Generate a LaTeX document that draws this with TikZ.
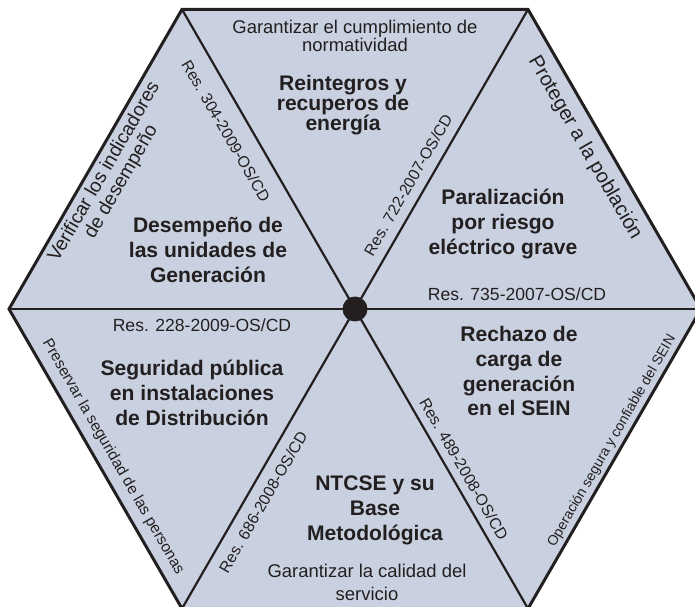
\documentclass[tikz,border=0pt]{standalone}
\usepackage{fontspec}
\setmainfont{Liberation Sans}
\definecolor{hexfill}{RGB}{201,209,224}
\definecolor{ink}{RGB}{35,31,32}

\begin{document}
\begin{tikzpicture}[x=0.02cm, y=-0.02cm, every node/.style={inner sep=0pt, text=ink},
	topic/.style={font=\fontsize{12}{14.2}\selectfont\bfseries, align=center},
	goal/.style={font=\fontsize{10.5}{11.4}\selectfont, align=center},
	res/.style={font=\fontsize{10}{12}\selectfont},
	resline/.style={font=\fontsize{9}{10}\selectfont}]

\useasboundingbox (0,0) rectangle (695,607);

\coordinate(c) at(355,309);
\foreach [count=\i] \x\y in {9/309,182/9.4,528/9.4,701/309,528/608.6,182/608.6}{
	\coordinate(v\i) at(\x,\y);
}

\fill[hexfill] (v1) -- (v2) -- (v3) -- (v4) -- (v5) -- (v6) -- cycle;
\foreach \v in {1,...,6}{
	\draw[ink, line width=1.25pt] (c) -- (v\v);
}
\draw[ink, line width=1.7pt, line join=miter] (v1) -- (v2) -- (v3) -- (v4) -- (v5) -- (v6) -- cycle;
\node(hub)[circle, fill=ink, minimum size=0.5cm] at(c) {};

% temas
\node(reint)[topic, font=\fontsize{12}{11.6}\selectfont\bfseries] at(343,105) {Reintegros y\\recuperos de\\energía};
\node(paral)[topic] at(503,224) {Paralización\\por riesgo\\eléctrico grave};
\node(rech)[topic] at(519,371) {Rechazo de\\carga de\\generación\\en el SEIN};
\node(ntcse)[topic] at(375,510) {NTCSE y su\\Base\\Metodológica};
\node(segur)[topic] at(192,393) {Seguridad pública\\en instalaciones\\de Distribución};
\node(desem)[topic] at(208,250) {Desempeño de\\las unidades de\\Generación};

% objetivos
\node(normat)[goal, font=\fontsize{10.5}{10.2}\selectfont] at(355,36) {Garantizar el cumplimiento de\\normatividad};
\node(proteg)[goal, font=\fontsize{11.5}{12}\selectfont, rotate=-60] at(585,148) {Proteger a la población};
\node(operac)[goal, font=\fontsize{8}{9}\selectfont, rotate=60] at(612,441) {Operación segura y confiable del SEIN};
\node(calid)[goal, font=\fontsize{10.5}{13}\selectfont] at(367,582) {Garantizar la calidad del\\servicio};
\node(preserv)[goal, font=\fontsize{8.8}{10}\selectfont, rotate=-60] at(113,457) {Preservar la seguridad de las personas};
\node(verif)[goal, font=\fontsize{11}{11.2}\selectfont, rotate=60] at(113,177) {Verificar los indicadores\\de desempeño};

% resoluciones
\node(r722)[resline, rotate=60] at(408,185) {Res. 722-2007-OS/CD};
\node(r735)[res] at(517,294) {Res. 735-2007-OS/CD};
\node(r489)[resline, rotate=-60] at(464,469) {Res. 489-2008-OS/CD};
\node(r686)[resline, rotate=60] at(263,502) {Res. 686-2008-OS/CD};
\node(r228)[res] at(202,325) {Res. 228-2009-OS/CD};
\node(r304)[resline, rotate=-60] at(226,131) {Res. 304-2009-OS/CD};

\end{tikzpicture}
\end{document}
